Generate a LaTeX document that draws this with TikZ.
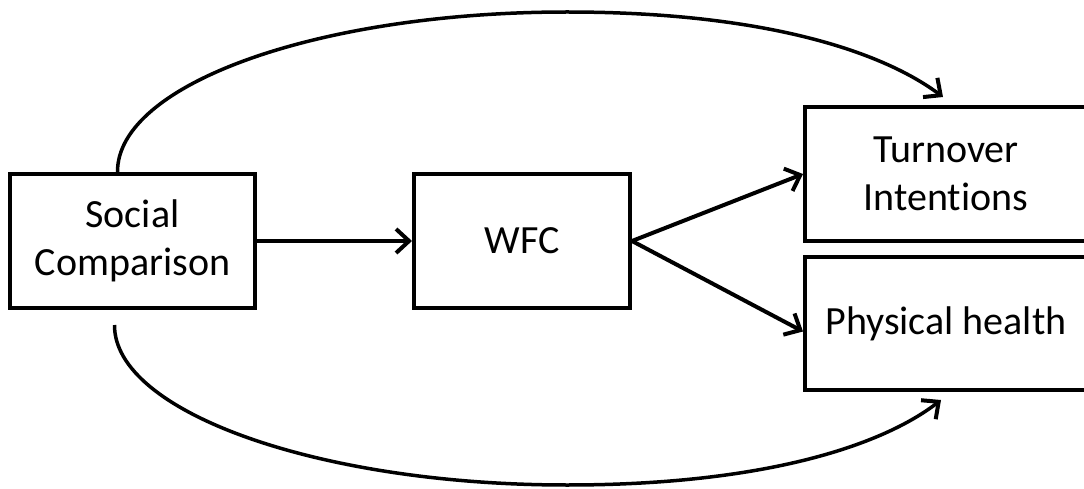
\documentclass[tikz,border=0pt]{standalone}
\usepackage{fontspec}
\setmainfont{Carlito}[Ligatures=NoCommon]
\usetikzlibrary{arrows.meta,calc}
\begin{document}
\begin{tikzpicture}[x=1pt,y=-1pt,
  box/.style={draw, line width=4pt, minimum height=134pt, inner sep=0pt, align=center,
    font=\fontsize{40}{47.6}\selectfont},
  arr/.style={line width=4pt, -{Straight Barb[length=13pt,width=24pt,line width=4pt]}},
  arc/.style={line width=3.5pt, -{Straight Barb[length=13pt,width=24pt,line width=4pt]}}]
\useasboundingbox (0,0) rectangle (1084,489);
\clip (0,0) rectangle (1084,489);
\fill[white] (0,0) rectangle (1084,489);
\node[box, minimum width=245pt] (sc) at (132.5,241) {Social\\Comparison};
\node[box, minimum width=216pt] (wfc) at (522,241) {WFC};
\node[box, minimum width=282pt] (ti) at (946,174) {Turnover\\Intentions};
\node[box, minimum width=282pt, minimum height=133pt] (ph) at (946,323.5) {Physical health};
\coordinate (tiend) at ([xshift=-3pt,yshift=8pt]ti.north);
\coordinate (phend) at ([xshift=-5pt,yshift=-8pt]ph.south);
\draw[arr] (sc.east) -- (wfc.west);
\draw[arr] (wfc.east) -- (ti.west);
\draw[arr] (wfc.east) -- ([yshift=-8pt]ph.west);
\draw[arc] ([xshift=-15pt]sc.north) .. controls (117,84) and (319,12) .. (567,12)
  .. controls (760,12) and (880,50) .. (tiend);
\draw[arc] ([xshift=-18pt,yshift=-15pt]sc.south) .. controls (114,412) and (319,485) .. (567,485)
  .. controls (760,485) and (880,447) .. (phend);
\end{tikzpicture}
\end{document}
